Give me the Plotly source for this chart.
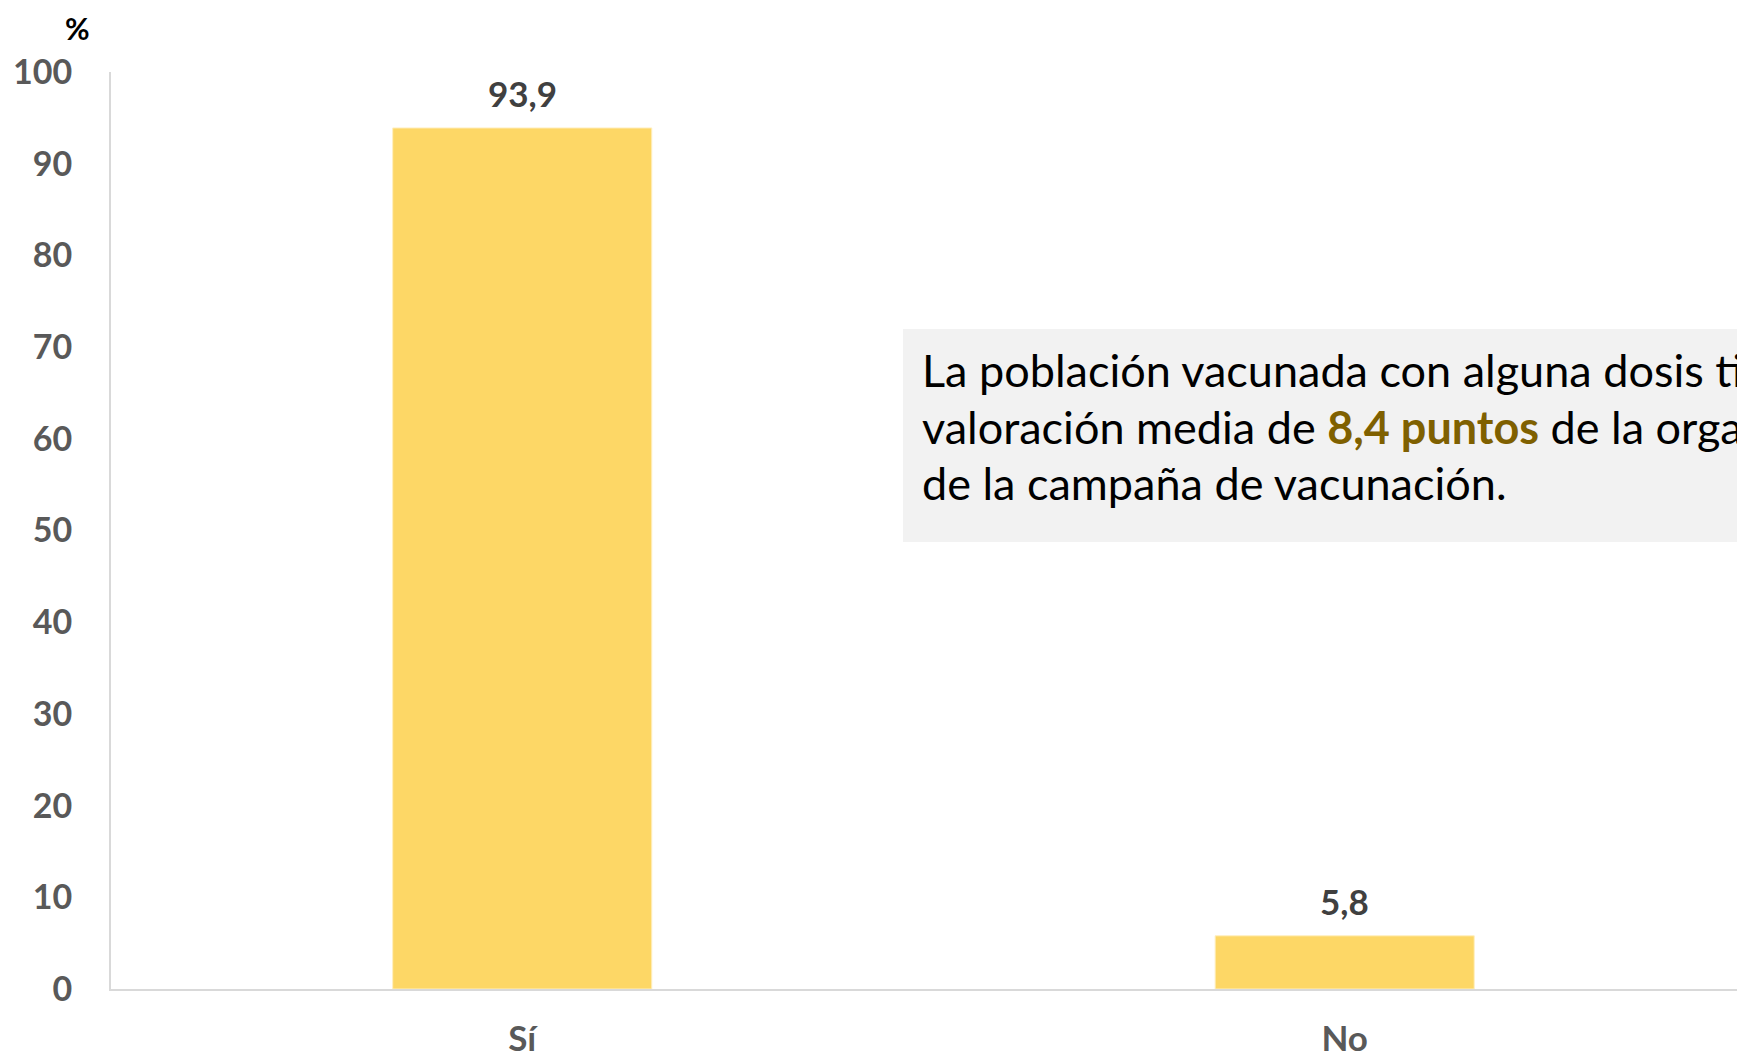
import plotly.graph_objects as go

# Valores del gráfico
categorias = ["Sí", "No"]
porcentajes = [93.9, 5.8]
etiquetas = ["93,9", "5,8"]
ticks_y = [0, 10, 20, 30, 40, 50, 60, 70, 80, 90, 100]

lineas_texto = [
    "La población vacunada con alguna dosis tiene una",
    "valoración media de <b><span style='color:#7F6000'>8,4 puntos</span></b> de la organización",
    "de la campaña de vacunación.",
]

W, H = 1737, 1057
ML, MR, MT, MB = 111, 0, 72, 68
PW, PH = W - ML - MR, H - MT - MB


def px_x(px):
    return (px - ML) / PW


def px_y(py):
    return (H - MB - py) / PH


FONT = "Lato"
GRIS = "#595959"

fig = go.Figure(
    go.Bar(
        x=categorias,
        y=porcentajes,
        width=0.315,
        marker=dict(color="#FDD766", line=dict(color="#FFEFC0", width=1)),
        hoverinfo="skip",
    )
)

# Etiquetas de valor sobre cada barra
for cat, val, txt in zip(categorias, porcentajes, etiquetas):
    fig.add_annotation(
        x=cat, y=val, xref="x", yref="y", text=txt, showarrow=False,
        yanchor="bottom", yshift=12,
        font=dict(family=FONT, size=35, color="#404040", weight="bold"),
    )

# Unidad del eje vertical
fig.add_annotation(
    x=px_x(77), y=px_y(28), xref="paper", yref="paper", text="%",
    showarrow=False, xanchor="center", yanchor="middle",
    font=dict(family=FONT, size=30, color="#000000", weight="bold"),
)

# Recuadro con el texto destacado
fig.add_shape(
    type="rect", xref="paper", yref="paper",
    x0=px_x(903), x1=px_x(2400), y0=px_y(542), y1=px_y(329),
    fillcolor="#F2F2F2", line=dict(width=0), layer="below",
)
for i, linea in enumerate(lineas_texto):
    fig.add_annotation(
        x=px_x(920), y=px_y(370 + 56.5 * i), xref="paper", yref="paper",
        text=linea, showarrow=False, xanchor="left", yanchor="middle",
        align="left",
        font=dict(family=FONT, size=45, color="#000000"),
    )

fig.update_layout(
    width=W, height=H,
    margin=dict(l=ML, r=MR, t=MT, b=MB, pad=0, autoexpand=False),
    paper_bgcolor="white", plot_bgcolor="white",
    showlegend=False,
    xaxis=dict(
        range=[-0.5, 1.477], automargin=False,
        showline=True, linecolor="#D9D9D9", linewidth=2,
        ticks="outside", ticklen=18, tickcolor="rgba(0,0,0,0)",
        tickfont=dict(family=FONT, size=35, color=GRIS, weight="bold"),
        showgrid=False, zeroline=False, fixedrange=True,
    ),
    yaxis=dict(
        range=[0, 100], tickvals=ticks_y, automargin=False,
        showline=True, linecolor="#D9D9D9", linewidth=2,
        ticks="outside", ticklen=30, tickcolor="rgba(0,0,0,0)",
        tickfont=dict(family=FONT, size=34, color=GRIS, weight="bold"),
        showgrid=False, zeroline=False, fixedrange=True,
    ),
)

fig.write_html("out.html", config={"displayModeBar": False})
